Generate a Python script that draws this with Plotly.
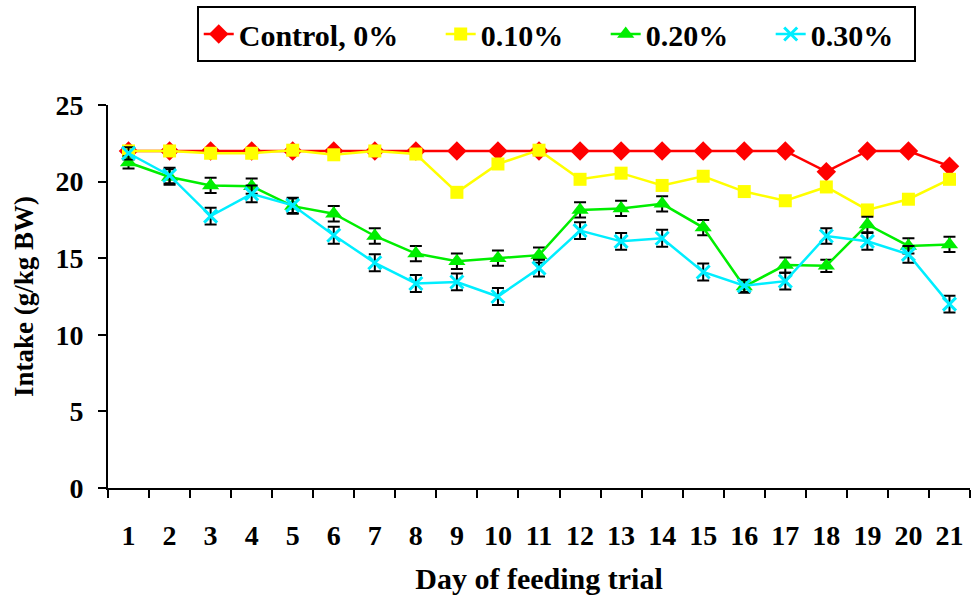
import plotly.graph_objects as go

days = [str(d) for d in range(1, 22)]
names = ["Control, 0%", "0.10%", "0.20%", "0.30%"]
control = [22.0, 22.0, 22.0, 22.0, 22.0, 22.0, 22.0, 22.0, 22.0, 22.0, 22.0,
           22.0, 22.0, 22.0, 22.0, 22.0, 22.0, 20.65, 22.0, 22.0, 21.0]
p010 = [22.0, 22.0, 21.85, 21.85, 22.05, 21.75, 22.0, 21.8, 19.3, 21.15, 22.05,
        20.15, 20.55, 19.75, 20.35, 19.35, 18.75, 19.65, 18.15, 18.85, 20.15]
p020 = [21.25, 20.3, 19.75, 19.7, 18.4, 17.9, 16.45, 15.3, 14.8, 15.0, 15.2,
        18.15, 18.25, 18.55, 17.0, 13.15, 14.55, 14.5, 17.2, 15.8, 15.9]
p030 = [21.85, 20.4, 17.75, 19.2, 18.45, 16.5, 14.7, 13.35, 13.45, 12.5, 14.35,
        16.8, 16.1, 16.3, 14.1, 13.2, 13.5, 16.45, 16.1, 15.25, 12.0]
err020 = [0.4, 0.5, 0.5, 0.5, 0.5, 0.5, 0.5, 0.5, 0.5, 0.5, 0.5,
          0.5, 0.5, 0.5, 0.5, 0.4, 0.5, 0.4, 0.5, 0.5, 0.5]
err030 = [0.4, 0.5, 0.55, 0.55, 0.5, 0.55, 0.55, 0.55, 0.55, 0.55, 0.55,
          0.55, 0.55, 0.55, 0.55, 0.4, 0.55, 0.5, 0.55, 0.55, 0.55]

font = "Liberation Serif, Times New Roman, Times, serif"
pad = "\u00a0" * 5
fig = go.Figure()
fig.add_trace(go.Scatter(x=days, y=control, name=names[0] + pad, mode="lines+markers",
                         line=dict(color="#ff0000", width=2.5),
                         marker=dict(symbol="diamond", size=15, color="#ff0000")))
fig.add_trace(go.Scatter(x=days, y=p010, name=names[1] + pad, mode="lines+markers",
                         line=dict(color="#ffff00", width=2.5),
                         marker=dict(symbol="square", size=13, color="#ffff00")))
fig.add_trace(go.Scatter(x=days, y=p020, name=names[2] + pad, mode="lines+markers",
                         line=dict(color="#00ee00", width=2.5),
                         marker=dict(symbol="triangle-up", size=15, color="#00ee00"),
                         error_y=dict(type="data", array=err020, color="black",
                                      thickness=2, width=6)))
fig.add_trace(go.Scatter(x=days, y=p030, name=names[3] + "\u00a0\u00a0", mode="lines+markers",
                         line=dict(color="#00eeff", width=2.5),
                         marker=dict(symbol="x-thin", size=13,
                                     line=dict(color="#00eeff", width=3)),
                         error_y=dict(type="data", array=err030, color="black",
                                      thickness=2, width=6)))

fig.update_layout(
    width=971, height=599,
    margin=dict(l=108, r=1, t=105, b=111),
    paper_bgcolor="white", plot_bgcolor="white",
    font=dict(family=font, color="black"),
    showlegend=True,
    legend=dict(orientation="h", x=0.52, xanchor="center", y=0.99, yref="container",
                yanchor="top", bordercolor="black", borderwidth=2,
                font=dict(family=font, size=30, color="black", weight="bold"),
                itemwidth=30, bgcolor="white", tracegroupgap=0),
    xaxis=dict(type="category", range=[-0.5, 20.5], showgrid=False, showline=True,
               linecolor="black", linewidth=2, ticks="outside", ticklen=8,
               tickwidth=2, tickcolor="black", tickson="boundaries",
               ticklabelstandoff=21,
               tickfont=dict(family=font, size=28, weight="bold"),
               title=dict(text="Day of feeding trial", standoff=18,
                          font=dict(family=font, size=30, weight="bold"))),
    yaxis=dict(range=[0, 25], dtick=5, showgrid=False, showline=True,
               linecolor="black", linewidth=2, ticks="outside", ticklen=8,
               tickwidth=2, tickcolor="black", zeroline=False,
               ticklabelstandoff=9,
               tickfont=dict(family=font, size=28, weight="bold"),
               title=dict(text="Intake (g/kg BW)", standoff=14,
                          font=dict(family=font, size=27, weight="bold"))),
)

fig.write_html("out.html")
